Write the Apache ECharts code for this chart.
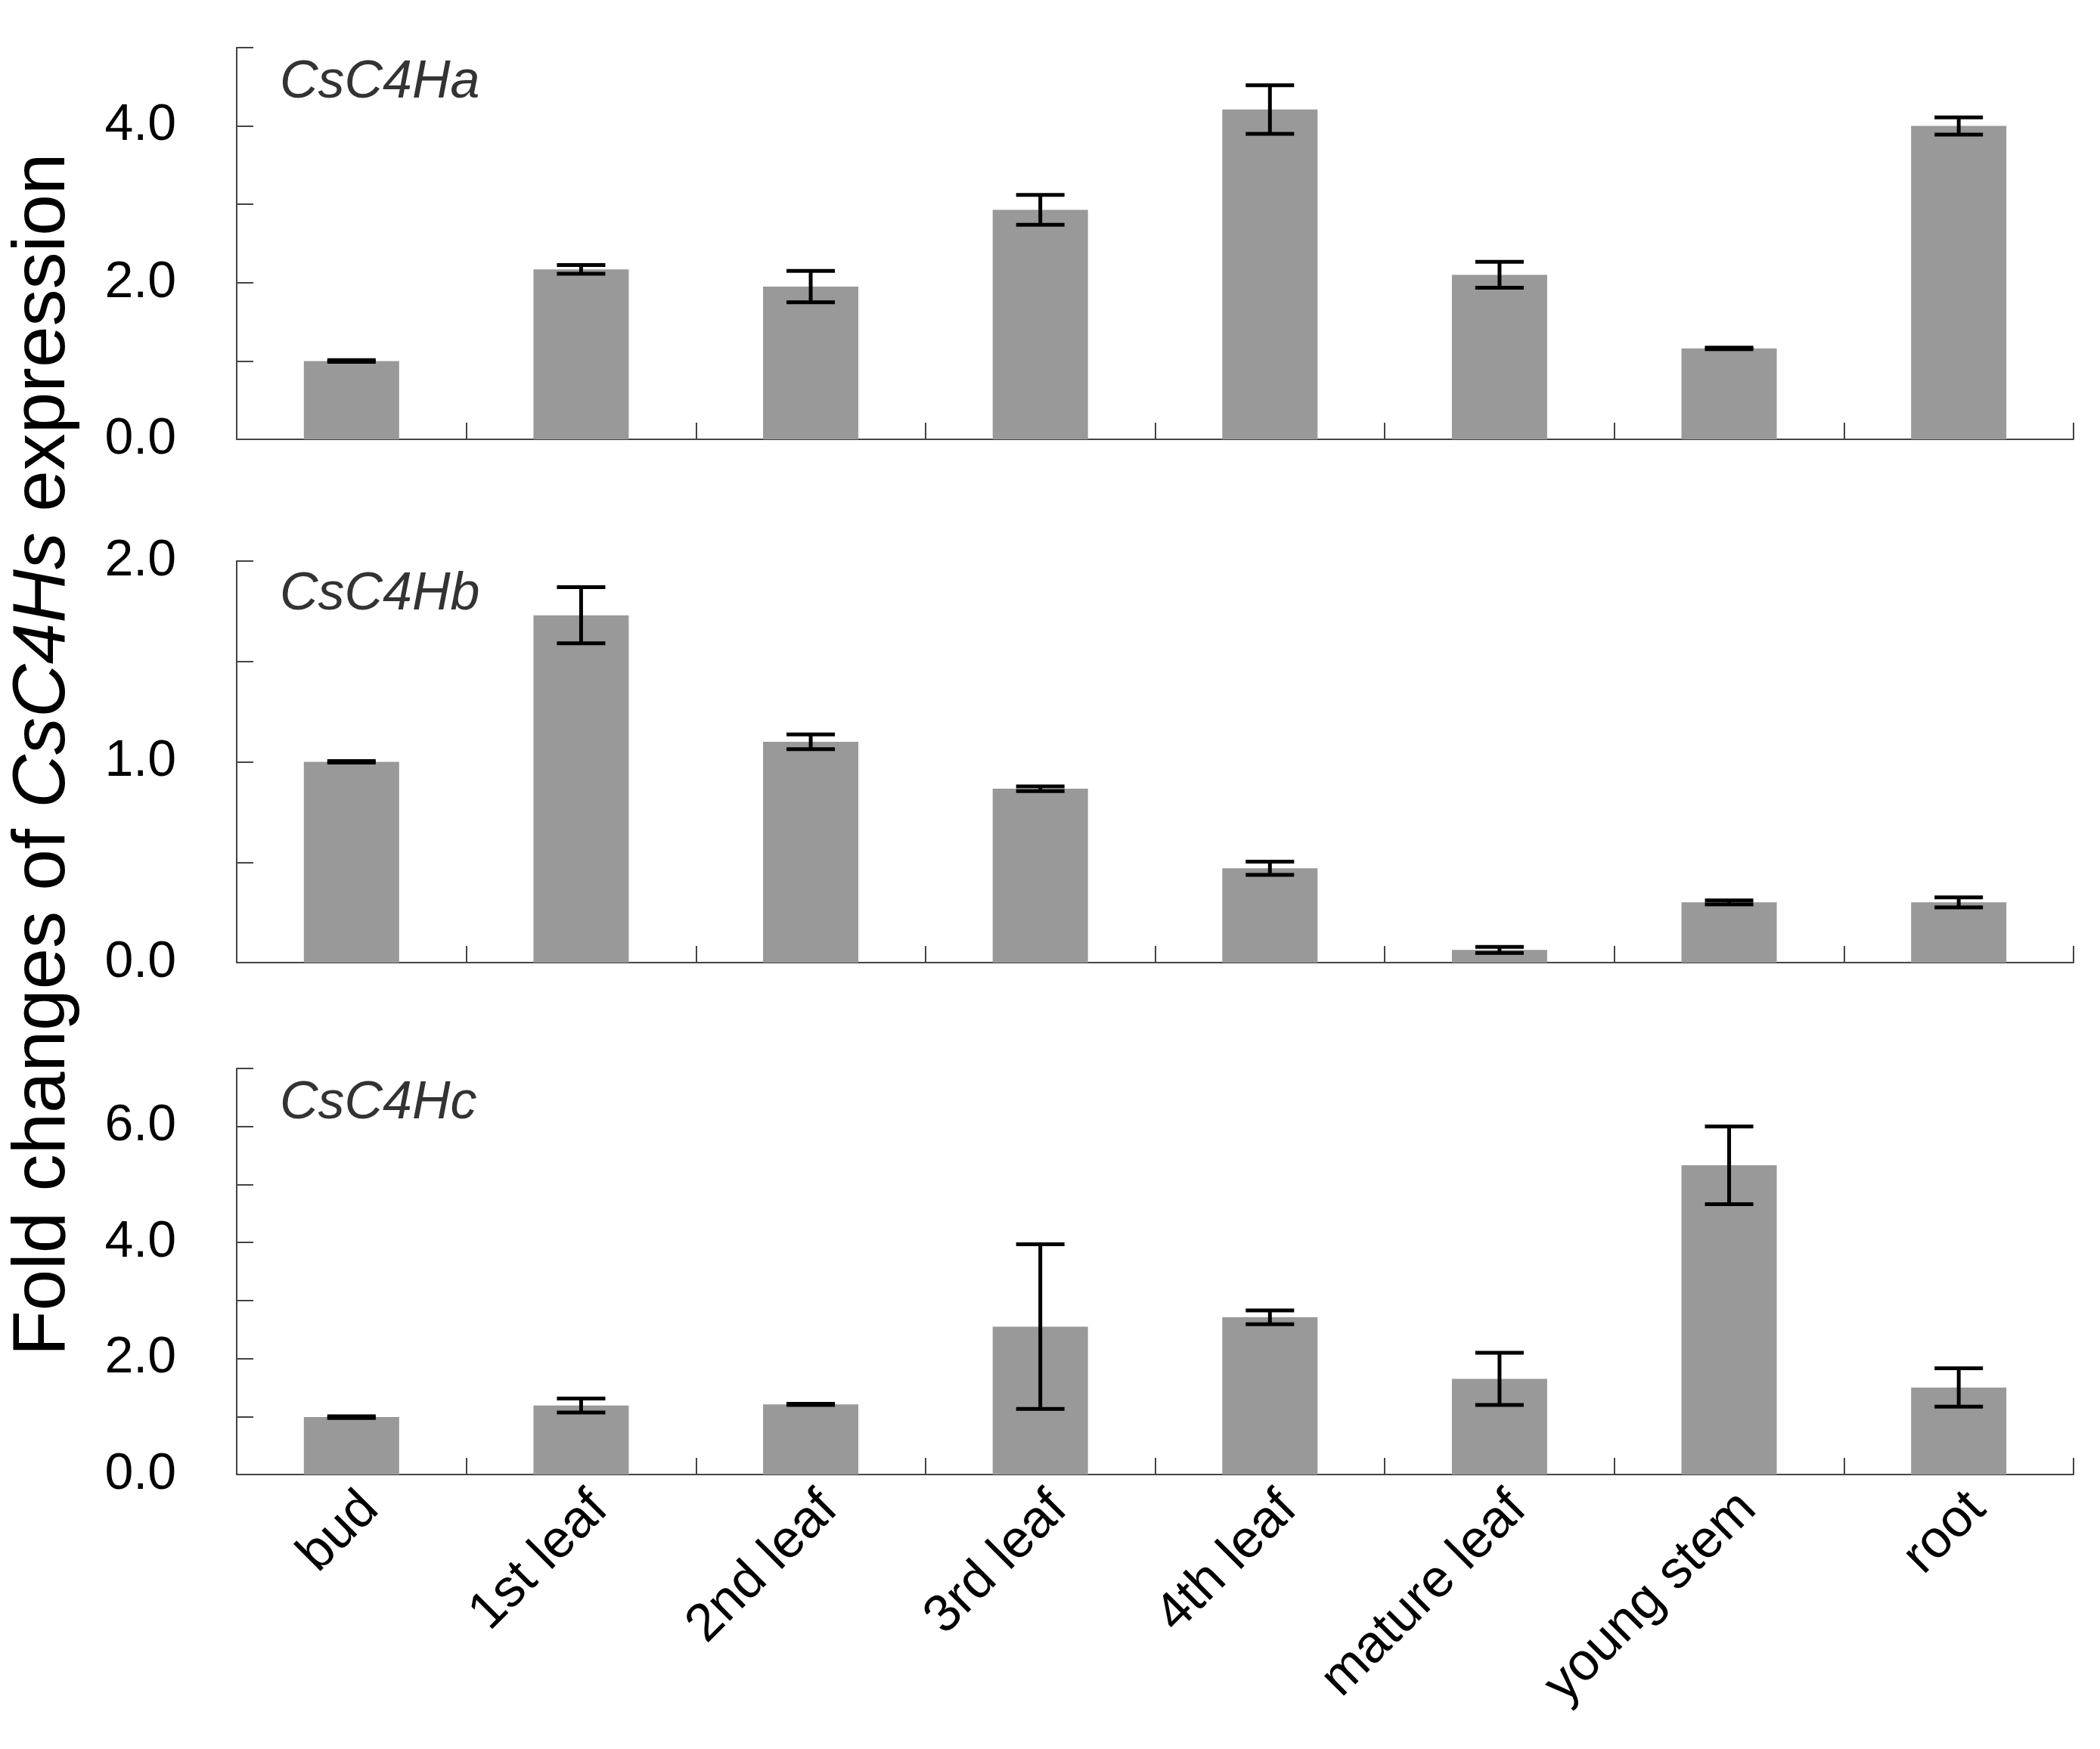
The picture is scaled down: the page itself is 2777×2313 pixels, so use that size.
<!DOCTYPE html>
<html><head><meta charset="utf-8">
<script src="https://cdn.jsdelivr.net/npm/echarts@6/dist/echarts.min.js"></script>
<style>html,body{margin:0;padding:0;background:#fff}#c{width:2777px;height:2313px}</style>
</head><body><div id="c"></div>
<script>
const categories = ['bud','1st leaf','2nd leaf','3rd leaf','4th leaf','mature leaf','young stem','root'];
const geneNames = ['CsC4Ha','CsC4Hb','CsC4Hc'];
const aMean = [1.00, 2.17, 1.95, 2.93, 4.21, 2.10, 1.16, 4.00];
const aErr  = [0.01, 0.055, 0.20, 0.19, 0.31, 0.165, 0.01, 0.11];
const bMean = [1.00, 1.73, 1.10, 0.866, 0.47, 0.063, 0.30, 0.30];
const bErr  = [0.004, 0.14, 0.037, 0.012, 0.033, 0.015, 0.01, 0.025];
const cMean = [0.99, 1.19, 1.21, 2.55, 2.71, 1.65, 5.33, 1.50];
const cErr  = [0.015, 0.12, 0.01, 1.42, 0.12, 0.45, 0.67, 0.33];
const yMax = [5, 2, 7];
const yInterval = [1, 0.5, 1];
const labelStep = [2, 2, 2];

const means = [aMean, bMean, cMean];
const errs = [aErr, bErr, cErr];
const FONT = '"Liberation Sans", Arial, sans-serif';
const grids = [
  {left: 313, right: 35, top: 63, height: 518},
  {left: 313, right: 35, top: 742, height: 531},
  {left: 313, right: 35, top: 1413, height: 537}
];
const axisCol = '#444';
const xAxes = grids.map((g, i) => ({
  type: 'category', gridIndex: i, data: categories, boundaryGap: true,
  axisLine: {lineStyle: {color: axisCol, width: 2}},
  axisTick: {show: true, inside: true, length: 22, interval: 0, lineStyle: {color: axisCol, width: 2}},
  axisLabel: i === 2 ? {show: true, rotate: 45, interval: 0, fontSize: 70, fontFamily: FONT, color: '#000', margin: 10, verticalAlign: 'top'} : {show: false}
}));
const yAxes = grids.map((g, i) => ({
  type: 'value', gridIndex: i, min: 0, max: yMax[i], interval: yInterval[i],
  splitLine: {show: false},
  axisLine: {show: true, lineStyle: {color: axisCol, width: 2}},
  axisTick: {show: true, inside: true, length: 22, lineStyle: {color: axisCol, width: 2}},
  axisLabel: {
    fontSize: 68, fontFamily: FONT, color: '#000', margin: 80,
    formatter: v => {
      const k = Math.round(v / yInterval[i]);
      if (k % labelStep[i] !== 0) return '';
      return v.toFixed(1);
    }
  }
}));
const series = [];
for (let i = 0; i < 3; i++) {
  series.push({
    type: 'bar', xAxisIndex: i, yAxisIndex: i, data: means[i], barWidth: 126,
    itemStyle: {color: '#999999'}, silent: true
  });
  series.push({
    type: 'custom', xAxisIndex: i, yAxisIndex: i, z: 5,
    data: means[i].map((m, j) => [j, m, errs[i][j]]),
    encode: {x: 0, y: 1},
    renderItem: (params, api) => {
      const x = api.value(0), m = api.value(1), e = api.value(2);
      const hi = api.coord([x, m + e]);
      const lo = api.coord([x, m - e]);
      const hw = 32;
      const st = {stroke: '#000', lineWidth: 5};
      return {type: 'group', children: [
        {type: 'line', shape: {x1: hi[0], y1: hi[1], x2: lo[0], y2: lo[1]}, style: st},
        {type: 'line', shape: {x1: hi[0]-hw, y1: hi[1], x2: hi[0]+hw, y2: hi[1]}, style: st},
        {type: 'line', shape: {x1: lo[0]-hw, y1: lo[1], x2: lo[0]+hw, y2: lo[1]}, style: st}
      ]};
    }
  });
}
const titleY = [117, 794, 1467];
const graphics = geneNames.map((n, i) => ({
  type: 'text', left: 370, top: titleY[i] - 42,
  style: {text: n, font: 'italic 70px ' + FONT, fill: '#333'}
}));
graphics.push({
  type: 'text', x: 58, y: 998, rotation: Math.PI / 2,
  style: {
    text: '{n|Fold changes of }{i|CsC4Hs}{n| expression}',
    align: 'center', verticalAlign: 'middle',
    rich: {
      n: {fontSize: 98, fontFamily: FONT, fill: '#000'},
      i: {fontSize: 98, fontFamily: FONT, fontStyle: 'italic', fill: '#000'}
    }
  }
});
const chart = echarts.init(document.getElementById('c'), null, {renderer: 'canvas'});
chart.setOption({
  animation: false,
  backgroundColor: '#fff',
  grid: grids,
  xAxis: xAxes,
  yAxis: yAxes,
  series: series,
  graphic: graphics
});
</script></body></html>
